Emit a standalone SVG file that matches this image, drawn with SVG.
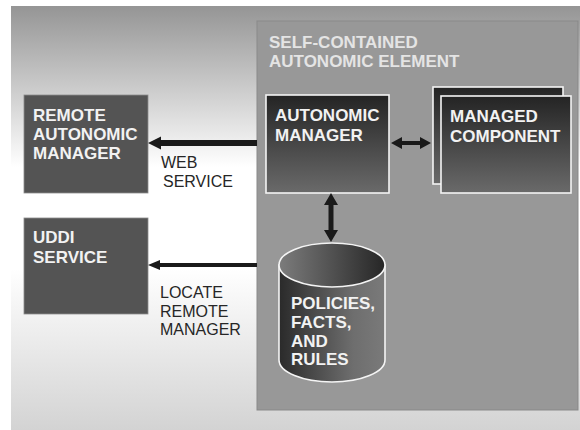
<svg xmlns="http://www.w3.org/2000/svg" width="580" height="430" viewBox="0 0 580 430">
  <defs>
    <linearGradient id="bgGrad" x1="0" y1="0" x2="0" y2="1">
      <stop offset="0" stop-color="#959595"/>
      <stop offset="0.38" stop-color="#ffffff"/>
      <stop offset="0.62" stop-color="#ffffff"/>
      <stop offset="1" stop-color="#d3d3d3"/>
    </linearGradient>
    <linearGradient id="boxGrad" x1="0" y1="0" x2="0" y2="1">
      <stop offset="0" stop-color="#242424"/>
      <stop offset="1" stop-color="#6a6a6a"/>
    </linearGradient>
    <linearGradient id="cylBody" x1="0" y1="0" x2="1" y2="0">
      <stop offset="0" stop-color="#2a2a2a"/>
      <stop offset="0.7" stop-color="#6e6e6e"/>
      <stop offset="1" stop-color="#7a7a7a"/>
    </linearGradient>
    <linearGradient id="cylTop" x1="0" y1="0" x2="1" y2="0">
      <stop offset="0" stop-color="#7c7c7c"/>
      <stop offset="1" stop-color="#262626"/>
    </linearGradient>
  </defs>
  <style>
    .ext { fill: #545454; stroke: #8c8c8c; stroke-width: 0.8; }
    .inner { fill: url(#boxGrad); stroke: #f4f4f4; stroke-width: 1.6; }
    .node-text { font-family: "Liberation Sans", Arial, sans-serif; font-weight: bold; font-size: 17px; fill: #f2f2f2; }
    .title-text { font-family: "Liberation Sans", Arial, sans-serif; font-weight: bold; font-size: 17px; fill: #e4e4e4; }
    .label-text { font-family: "Liberation Sans", Arial, sans-serif; font-size: 16px; fill: #262626; }
    .arrow { fill: #1a1a1a; }
  </style>

  <!-- backdrop -->
  <rect x="11" y="6" width="569" height="424" fill="url(#bgGrad)"/>

  <!-- self-contained autonomic element container -->
  <g id="autonomic-element">
    <rect x="257" y="21" width="321" height="389" fill="#989898" stroke="#898989" stroke-width="1"/>
    <text class="title-text" x="269" y="48">SELF-CONTAINED</text>
    <text class="title-text" x="269" y="67">AUTONOMIC ELEMENT</text>
  </g>

  <g id="remote-autonomic-manager">
    <rect class="ext" x="24" y="95" width="124" height="98"/>
    <text class="node-text" x="33" y="121">REMOTE</text>
    <text class="node-text" x="33" y="140">AUTONOMIC</text>
    <text class="node-text" x="33" y="159">MANAGER</text>
  </g>

  <g id="uddi-service">
    <rect class="ext" x="24" y="218" width="124" height="96"/>
    <text class="node-text" x="33" y="243">UDDI</text>
    <text class="node-text" x="33" y="263">SERVICE</text>
  </g>

  <g id="autonomic-manager">
    <rect class="inner" x="266" y="95" width="123" height="98"/>
    <text class="node-text" x="275" y="121">AUTONOMIC</text>
    <text class="node-text" x="275" y="141">MANAGER</text>
  </g>

  <g id="managed-component">
    <rect class="inner" x="433" y="87" width="130" height="97"/>
    <rect class="inner" x="441" y="96" width="130" height="97"/>
    <text class="node-text" x="450" y="122">MANAGED</text>
    <text class="node-text" x="450" y="142">COMPONENT</text>
  </g>

  <g id="policies-store">
    <path d="M279,265 L279,360 A53,22 0 0 0 385,360 L385,265 Z" fill="url(#cylBody)" stroke="#f4f4f4" stroke-width="1.6"/>
    <ellipse cx="332" cy="265" rx="53" ry="22" fill="url(#cylTop)" stroke="#f4f4f4" stroke-width="1.6"/>
    <text class="node-text" x="291" y="309">POLICIES,</text>
    <text class="node-text" x="291" y="328">FACTS,</text>
    <text class="node-text" x="291" y="347">AND</text>
    <text class="node-text" x="291" y="365">RULES</text>
  </g>

  <!-- connectors -->
  <g id="connectors">
    <polygon class="arrow" points="148,143 161,136.5 161,140 257,140 257,146 161,146 161,149.5"/>
    <polygon class="arrow" points="148,265 160,260 160,263 257,263 257,267 160,267 160,270"/>
    <polygon class="arrow" points="391,143 402,137 402,141 420,141 420,137 431,143 420,149 420,145 402,145 402,149"/>
    <polygon class="arrow" points="331,193 338,205 333.5,205 333.5,230 338,230 331,242 324,230 328.5,230 328.5,205 324,205"/>
    <text class="label-text" x="161" y="168">WEB</text>
    <text class="label-text" x="163" y="187">SERVICE</text>
    <text class="label-text" x="160" y="298">LOCATE</text>
    <text class="label-text" x="160" y="317">REMOTE</text>
    <text class="label-text" x="160" y="335">MANAGER</text>
  </g>
</svg>
